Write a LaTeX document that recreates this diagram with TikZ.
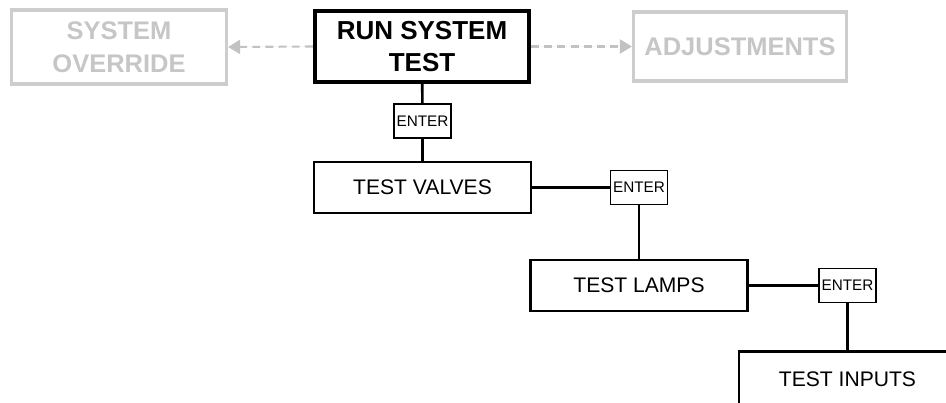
\documentclass[tikz,border=0pt]{standalone}
\usepackage{fontspec}
\setmainfont{Liberation Sans}
\usepackage{tikz}
\usetikzlibrary{arrows.meta, positioning}

\definecolor{faded}{HTML}{CDCDCD}
\definecolor{fadedtext}{HTML}{C6C6C6}
\definecolor{fadedline}{HTML}{C2C2C2}

\begin{document}
\begin{tikzpicture}[
  menu/.style={rectangle, draw, line width=1.2pt, inner sep=0pt,
    minimum width=4.34cm, minimum height=1.02cm, font=\fontsize{12}{14}\selectfont},
  top/.style={rectangle, draw, line width=2.4pt, inner sep=0pt, align=center,
    minimum width=4.28cm, minimum height=1.42cm,
    font=\bfseries\fontsize{14.8}{18.7}\selectfont},
  ghost/.style={rectangle, draw=faded, text=fadedtext, line width=1.8pt, inner sep=0pt,
    align=center, font=\bfseries\fontsize{14.5}{18.7}\selectfont},
  key/.style={rectangle, draw, line width=1.1pt, inner sep=0pt,
    minimum width=1.14cm, minimum height=0.68cm, font=\fontsize{8.7}{10}\selectfont},
  ln/.style={line width=1.5pt},
  go/.style={-{Triangle[length=2.4mm, width=2.8mm]}, draw=fadedline, fill=fadedline,
    line width=1.2pt, dash pattern=on 4.5pt off 3pt},
  scale=1.0]

  \clip (0,0) rectangle (18.92,-8.06);

  % top row
  \node[top] (run) at (8.44,-0.93) {RUN SYSTEM\\TEST};
  \node[ghost, minimum width=4.30cm, minimum height=1.48cm] (override) at (2.38,-0.94)
    {SYSTEM\\OVERRIDE};
  \node[ghost, minimum width=4.26cm, minimum height=1.38cm] (adjust) at (14.80,-0.93)
    {ADJUSTMENTS};
  \draw[go] (run.west) -- (override.east);
  \draw[go] (run.east) -- (adjust.west);

  % test menu
  \node[key]  (enter1) at (8.45,-2.42) {ENTER};
  \node[menu] (valves) at (8.45,-3.75) {TEST VALVES};
  \node[key]  (enter2) at (12.78,-3.75) {ENTER};
  \node[menu] (lamps)  at (12.78,-5.71) {TEST LAMPS};
  \node[key]  (enter3) at (16.95,-5.71) {ENTER};
  \node[menu, minimum height=1.1cm] (inputs) at (16.95,-7.58) {TEST INPUTS};

  \draw[ln] (run) -- (enter1);
  \draw[ln] (enter1) -- (valves);
  \draw[ln] (valves) -- (enter2);
  \draw[ln] (enter2) -- (lamps);
  \draw[ln] (lamps) -- (enter3);
  \draw[ln] (enter3) -- (inputs);
\end{tikzpicture}
\end{document}
